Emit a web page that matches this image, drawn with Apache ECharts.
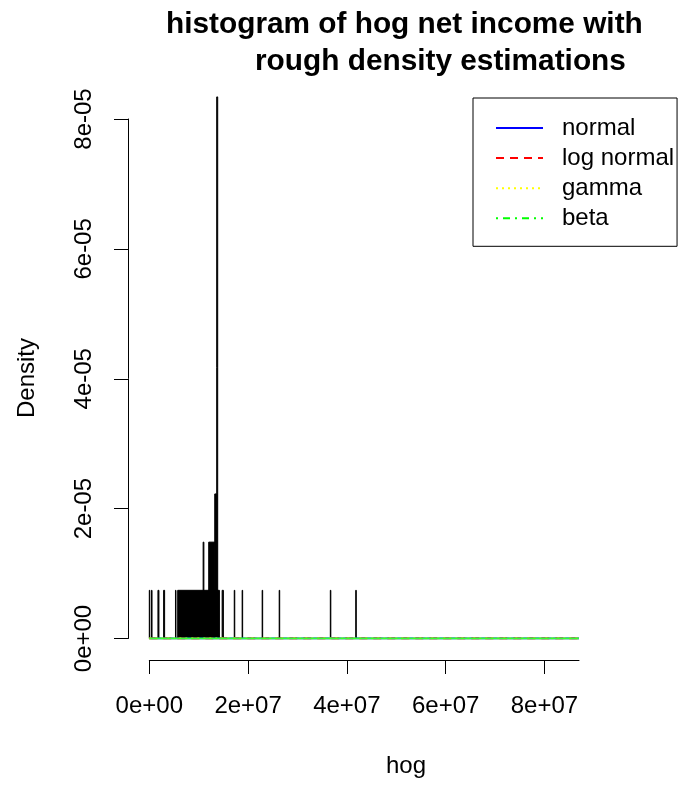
<!DOCTYPE html>
<html>
<head>
<meta charset="utf-8">
<script src="https://cdn.jsdelivr.net/npm/echarts@6/dist/echarts.min.js"></script>
<style>html,body{margin:0;padding:0;background:#fff;}#c{width:681px;height:786px;}</style>
</head>
<body>
<div id="c"></div>
<script>
// Histogram bins (hog net income), left edge, right edge, density
var binLeft  = [0.00e6, 0.45e6, 1.75e6, 2.90e6, 5.30e6, 5.75e6, 10.90e6, 12.03e6, 13.25e6, 13.65e6, 14.75e6, 17.20e6, 18.80e6, 22.85e6, 26.30e6, 36.65e6, 41.80e6];
var binRight = [0.10e6, 0.55e6, 1.95e6, 3.10e6, 5.40e6, 14.20e6, 11.05e6, 13.25e6, 13.65e6, 13.85e6, 15.00e6, 17.30e6, 18.90e6, 22.95e6, 26.40e6, 36.75e6, 41.90e6];
var binDensity = [7.42e-6, 7.42e-6, 7.42e-6, 7.42e-6, 7.42e-6, 7.42e-6, 14.84e-6, 14.84e-6, 22.26e-6, 8.34e-5, 7.42e-6, 7.42e-6, 7.42e-6, 7.42e-6, 7.42e-6, 7.42e-6, 7.42e-6];

// Fitted density curves (all essentially zero at this scale)
var curveX        = [0, 1e7, 2e7, 3e7, 4e7, 5e7, 6e7, 7e7, 8e7, 8.7e7];
var normalDens    = [0, 0, 0, 0, 0, 0, 0, 0, 0, 0];
var lognormalDens = [0, 0, 0, 0, 0, 0, 0, 0, 0, 0];
var gammaDens     = [0, 0, 0, 0, 0, 0, 0, 0, 0, 0];
var betaDens      = [0, 0, 0, 0, 0, 0, 0, 0, 0, 0];

var xTicks = [0, 2e7, 4e7, 6e7, 8e7];
var yTicks = [0, 2e-5, 4e-5, 6e-5, 8e-5];
var seriesNames = ['normal', 'log normal', 'gamma', 'beta'];

function rfmt(v) {
  var s = Number(v).toExponential(0);
  return s.replace(/e([+-])(\d)$/, 'e$10$2');
}
function pairs(xs, ys) { return xs.map(function (x, i) { return [x, ys[i]]; }); }

var FONT = '"Liberation Sans", Arial, sans-serif';
var chart = echarts.init(document.getElementById('c'), null, {renderer: 'canvas'});
var histData = binLeft.map(function (l, i) { return [l, binRight[i], binDensity[i]]; });
var noSym = {color: 'rgba(0,0,0,0)', borderWidth: 0};

var option = {
  backgroundColor: '#ffffff',
  animation: false,
  textStyle: {fontFamily: FONT},
  title: [
    {text: 'histogram of hog net income with', left: 166, top: 10, padding: 0,
     textStyle: {fontFamily: FONT, fontSize: 29.8, fontWeight: 'bold', color: '#000', lineHeight: 30}},
    {text: 'rough density estimations', left: 255, top: 47, padding: 0,
     textStyle: {fontFamily: FONT, fontSize: 29.8, fontWeight: 'bold', color: '#000', lineHeight: 30}}
  ],
  grid: {left: 149.3, right: 102, top: 119, bottom: 147.5, containLabel: false},
  xAxis: {
    type: 'value', min: 0, max: 8.7e7, offset: 21.5,
    splitLine: {show: false},
    axisLine: {show: true, onZero: false, lineStyle: {color: '#000', width: 1}},
    axisTick: {show: true, length: 14, customValues: xTicks, lineStyle: {color: '#000', width: 1}},
    axisLabel: {show: true, customValues: xTicks, formatter: rfmt, margin: 34,
      fontSize: 24, fontFamily: FONT, color: '#000', lineHeight: 24}
  },
  yAxis: {
    type: 'value', min: 0, max: 8e-5, offset: 21.3,
    splitLine: {show: false},
    axisLine: {show: true, onZero: false, lineStyle: {color: '#000', width: 1}},
    axisTick: {show: true, length: 14, customValues: yTicks, lineStyle: {color: '#000', width: 1}},
    axisLabel: {show: true, customValues: yTicks, formatter: rfmt, rotate: 90, margin: 32,
      fontSize: 24, fontFamily: FONT, color: '#000', lineHeight: 24}
  },
  legend: {
    orient: 'vertical', left: 473, top: 98,
    borderColor: '#000', borderWidth: 1,
    padding: [18, 3, 16, 22],
    itemWidth: 47, itemHeight: 14, itemGap: 6.1,
    formatter: function (name) { return '{s|}' + name; },
    textStyle: {fontSize: 24, fontFamily: FONT, color: '#000', lineHeight: 24,
      rich: {s: {width: 14}}},
    data: [
      {name: 'normal', itemStyle: noSym, lineStyle: {color: '#0000ff', width: 2, type: 'solid'}},
      {name: 'log normal', itemStyle: noSym, lineStyle: {color: '#ff0000', width: 2, type: [8, 6]}},
      {name: 'gamma', itemStyle: noSym, lineStyle: {color: '#ffff00', width: 2, type: [2, 4]}},
      {name: 'beta', itemStyle: noSym, lineStyle: {color: '#00ff00', width: 2, type: [2, 5, 7, 5]}}
    ]
  },
  graphic: [
    {type: 'text', left: 386, top: 754, style: {text: 'hog', fontSize: 24, fontFamily: FONT, fill: '#000'}},
    {type: 'text', x: 27, y: 378, rotation: Math.PI / 2,
     style: {text: 'Density', fontSize: 24, fontFamily: FONT, fill: '#000', align: 'center', verticalAlign: 'middle'}}
  ],
  series: [
    {
      type: 'custom', name: 'hist', clip: false, data: histData,
      encode: {x: [0, 1], y: 2},
      renderItem: function (params, api) {
        var x0 = api.value(0), x1 = api.value(1), h = api.value(2);
        var p0 = api.coord([x0, h]);
        var p1 = api.coord([x1, 0]);
        return {type: 'rect',
          shape: {x: p0[0], y: p0[1], width: Math.max(p1[0] - p0[0], 0.5), height: p1[1] - p0[1]},
          style: {fill: '#000', stroke: '#000', lineWidth: 1}};
      },
      z: 2
    },
    {type: 'line', name: 'normal', data: pairs(curveX, normalDens), symbol: 'none',
     lineStyle: {color: '#0000ff', width: 2}, itemStyle: {color: '#0000ff'}, z: 3},
    {type: 'line', name: 'log normal', data: pairs(curveX, lognormalDens), symbol: 'none',
     lineStyle: {color: '#ff0000', width: 2, type: [8, 6]}, itemStyle: {color: '#ff0000'}, z: 4},
    {type: 'line', name: 'gamma', data: pairs(curveX, gammaDens), symbol: 'none',
     lineStyle: {color: '#ffff00', width: 2, type: [2, 4]}, itemStyle: {color: '#ffff00'}, z: 5},
    {type: 'line', name: 'beta', data: pairs(curveX, betaDens), symbol: 'none',
     lineStyle: {color: '#33ff33', width: 2}, itemStyle: {color: '#00ff00'}, z: 6}
  ]
};
chart.setOption(option);
</script>
</body>
</html>
